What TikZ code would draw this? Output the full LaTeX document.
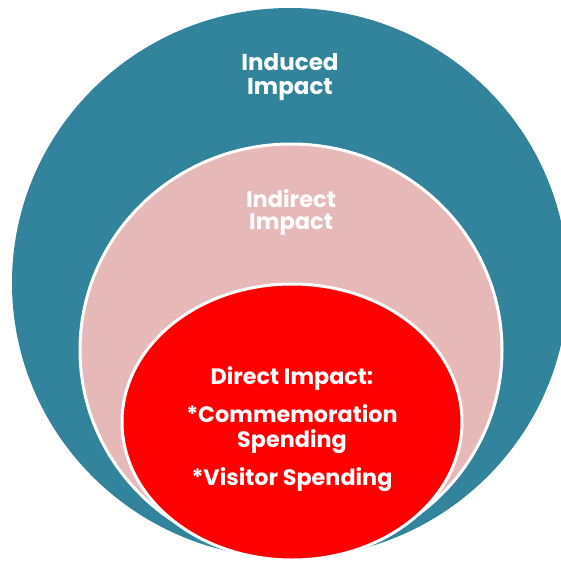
\documentclass[tikz,border=0pt]{standalone}
\usepackage{fontspec}
\setmainfont{Poppins}
\usetikzlibrary{shapes.geometric, positioning}
\definecolor{tealring}{HTML}{31849B}
\definecolor{pinkring}{HTML}{E6B9B8}
\definecolor{redcore}{HTML}{FF0000}
\tikzstyle{ring} = [ellipse, inner sep=0pt, outer sep=0pt, line width=3pt, draw=white]
\tikzstyle{caption} = [text=white, align=center, inner sep=0pt, font=\bfseries]

\begin{document}
\begin{tikzpicture}[x=1pt, y=-1pt]
  \useasboundingbox (0,0) rectangle (561,567);
  \node (induced) [ring, draw=none, fill=tealring, minimum width=556pt, minimum height=550pt] at (290,283) {};
  \node (indirect) [ring, fill=pinkring, minimum width=422pt, minimum height=412pt] at (291,350) {};
  \node (direct) [ring, fill=redcore, minimum width=340pt, minimum height=276pt] at (292,422) {};

  \node (inducedtext) [caption, font=\bfseries\fontsize{23}{24}\selectfont, below=45pt of induced.north] {Induced\\Impact};
  \node (indirecttext) [caption, font=\bfseries\fontsize{22.5}{22.5}\selectfont, below=45pt of indirect.north] {Indirect\\Impact};
  \node (directtext) [caption, font=\bfseries\fontsize{22.3}{25}\selectfont, below=82.5pt of direct.north] {Direct Impact:\\[13pt] *Commemoration\\Spending\\[13pt] *Visitor Spending};
\end{tikzpicture}
\end{document}
